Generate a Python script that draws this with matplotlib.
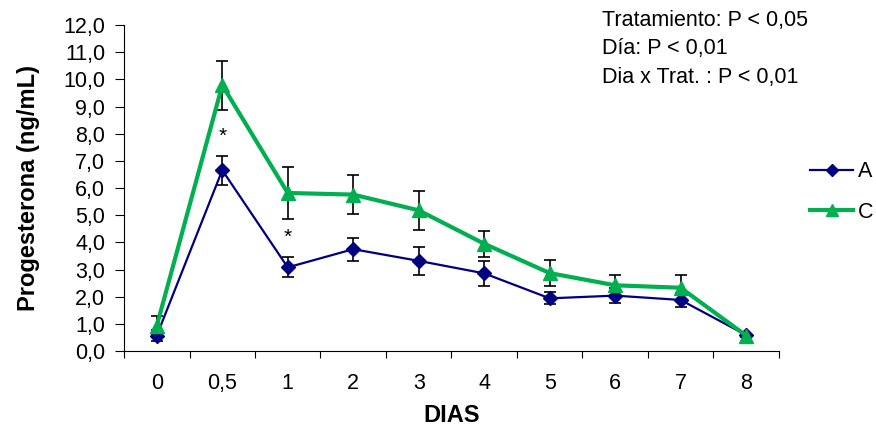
import matplotlib
matplotlib.use("Agg")
import matplotlib.pyplot as plt
from matplotlib.lines import Line2D
import numpy as np

plt.rcParams["font.family"] = ["Liberation Sans", "DejaVu Sans"]

# data
dias = ["0", "0,5", "1", "2", "3", "4", "5", "6", "7", "8"]
grupo_a = [0.57, 6.66, 3.08, 3.75, 3.32, 2.86, 1.94, 2.04, 1.88, 0.59]
grupo_a_err = [0.20, 0.53, 0.37, 0.42, 0.51, 0.47, 0.22, 0.28, 0.27, 0.05]
grupo_c = [0.93, 9.79, 5.82, 5.76, 5.18, 3.95, 2.87, 2.42, 2.33, 0.57]
grupo_c_err = [0.35, 0.90, 0.95, 0.72, 0.73, 0.48, 0.48, 0.37, 0.46, 0.05]
asteriscos = {1: 7.9, 2: 4.2}  # category index -> height
stats_lines = ["Tratamiento: P < 0,05", "Día: P < 0,01", "Dia x Trat. : P < 0,01"]

x = np.arange(len(dias))

fig = plt.figure(figsize=(8.76, 4.26), dpi=100)
ax = fig.add_axes([0.1416, 0.176, 0.7475, 0.765])

col_a = "#000080"
col_c = "#00B050"

ax.errorbar(x, grupo_c, yerr=grupo_c_err, fmt="none", ecolor="black",
            elinewidth=1.2, capsize=4, capthick=1.2, zorder=2)
ax.errorbar(x, grupo_a, yerr=grupo_a_err, fmt="none", ecolor="black",
            elinewidth=1.2, capsize=4, capthick=1.2, zorder=2)
ax.plot(x, grupo_a, color=col_a, lw=1.6, marker="D", ms=7.5, zorder=3)
ax.plot(x, grupo_c, color=col_c, lw=3, marker="^", ms=10, zorder=4)

for i, h in asteriscos.items():
    ax.text(x[i], h, "*", ha="center", va="center", fontsize=15)

ax.set_xlim(-0.5, len(dias) - 0.5)
ax.set_ylim(0, 12)
ax.set_yticks(np.arange(0, 13, 1))
ax.set_yticklabels([f"{v:.1f}".replace(".", ",") for v in range(13)])
ax.set_xticks(np.arange(-0.5, len(dias), 1))
ax.set_xticklabels([])
ax.set_xticks(x, minor=True)
ax.set_xticklabels(dias, minor=True)
ax.tick_params(axis="x", which="minor", length=0, pad=16, labelsize=15.5)
ax.tick_params(axis="x", which="major", length=5, direction="out")
ax.tick_params(axis="y", length=6.5, direction="out", labelsize=15.5, pad=7)

for s in ["top", "right"]:
    ax.spines[s].set_visible(False)

ax.set_ylabel("Progesterona (ng/mL)", fontsize=17, fontweight="bold", labelpad=17)
ax.set_xlabel("DIAS", fontsize=17, fontweight="bold", labelpad=7)

handles = [Line2D([], [], color=col_a, lw=1.6, marker="D", ms=6.5),
           Line2D([], [], color=col_c, lw=3, marker="^", ms=8)]
fig.legend(handles, ["A", "C"], loc="center left", bbox_to_anchor=(0.903, 0.549),
           frameon=False, fontsize=15.5, handlelength=2.0, handletextpad=0.2,
           labelspacing=0.9)

for k, line in enumerate(stats_lines):
    fig.text(0.687, 0.953 - k * 0.068, line, fontsize=15.5, va="center", ha="left")

fig.savefig("out.png", dpi=100)
